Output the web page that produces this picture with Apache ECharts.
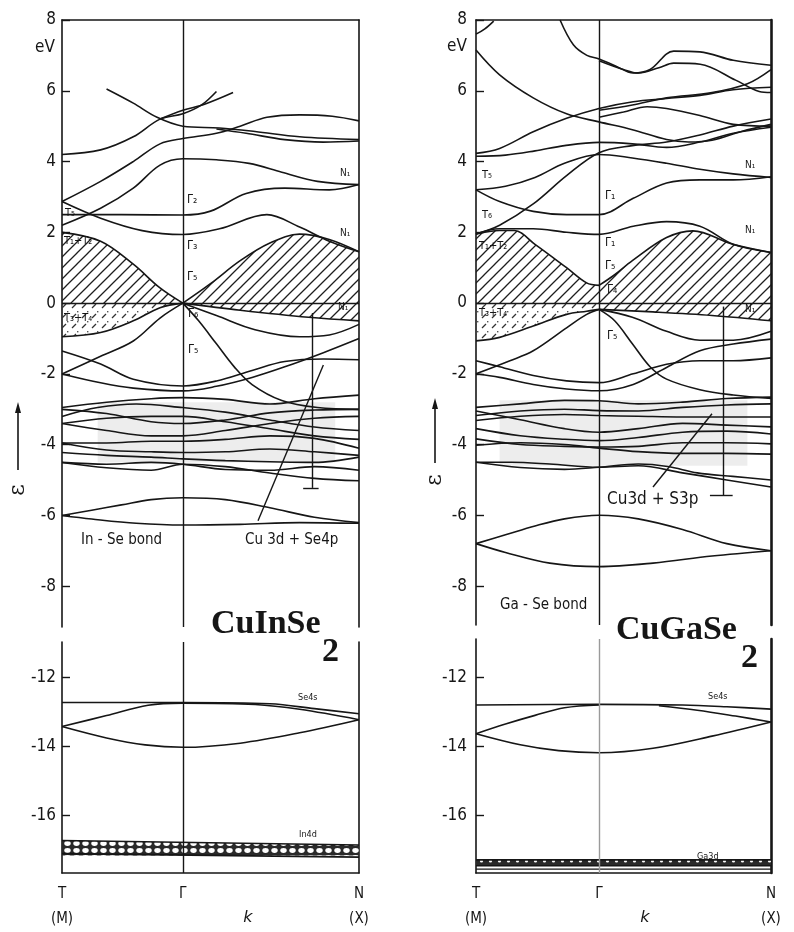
<!DOCTYPE html>
<html>
<head>
<meta charset="utf-8">
<script src="https://cdn.jsdelivr.net/npm/echarts@6/dist/echarts.min.js"></script>
<style>
  html, body { margin: 0; padding: 0; background: #fff; }
  #chart { width: 794px; height: 932px; }
</style>
</head>
<body>
<div id="chart"></div>
<script>
// k path: T (0) -> Gamma -> N (100), energies in eV
const gammaL = 40.7;
const gammaR = 41.7;
const eTicksUpper = [-8, -6, -4, -2, 0, 2, 4, 6, 8];
const eTicksLower = [-16, -14, -12];

// ---- CuInSe2 ----
const cuInCond = [
  [[15, 6.05], [24, 5.65], [32, 5.25], [40.7, 5.0], [53, 4.95], [65, 4.85], [80, 4.7], [100, 4.62]],
  [[0, 4.2], [13, 4.33], [24, 4.7], [33, 5.2], [40.7, 5.35], [47, 5.6], [52, 5.98]],
  [[33, 5.2], [40.7, 5.45], [48, 5.62], [57.6, 5.95]],
  [[0, 2.87], [13, 3.44], [24, 4.0], [33, 4.5], [40.7, 4.65], [52, 4.8], [60, 5.0], [69, 5.25], [80, 5.32], [91, 5.28], [100, 5.15]],
  [[52, 4.92], [62, 4.8], [75, 4.62], [88, 4.55], [100, 4.58]],
  [[0, 2.87], [13, 2.4], [27, 2.05], [40.7, 1.94], [53, 2.1], [69, 2.5], [80, 2.15], [90, 1.75], [100, 1.45]],
  [[0, 2.5], [20, 2.5], [40.7, 2.49], [50, 2.6], [62, 3.1], [75, 3.25], [90, 3.2], [100, 3.35]],
  [[0, 2.2], [13, 2.68], [24, 3.25], [33, 3.9], [40.7, 4.08], [52, 4.05], [63, 3.95], [74, 3.7], [86, 3.44], [100, 3.35]]
];
const cuInVal = [
  [[0, -2.0], [13, -1.5], [24, -1.07], [33, -0.42], [40.7, 0]],
  [[40.7, 0], [52, -0.35], [65, -0.75], [80, -0.95], [90, -0.9], [100, -0.6]],
  [[40.7, 0], [46, -0.5], [52, -1.15], [58, -1.8], [64, -2.3], [74, -2.75], [86, -2.95], [100, -3.0]],
  [[0, -1.35], [13, -1.72], [24, -2.15], [40.7, -2.34], [52, -2.2], [64, -1.9], [75, -1.65], [88, -1.58], [100, -1.6]],
  [[0, -2.0], [13, -2.25], [24, -2.4], [40.7, -2.48], [52, -2.35], [64, -2.1], [75, -1.8], [88, -1.4], [100, -1.0]]
];
const cuInD = [
  [[0, -2.95], [15, -2.8], [30, -2.7], [40.7, -2.67], [55, -2.72], [70, -2.85], [85, -2.7], [100, -2.6]],
  [[0, -3.0], [15, -3.12], [30, -3.35], [40.7, -3.4], [55, -3.3], [70, -3.1], [85, -3.02], [100, -3.0]],
  [[0, -3.2], [12, -2.95], [25, -2.85], [40.7, -2.95], [55, -3.08], [70, -3.3], [85, -3.5], [100, -3.6]],
  [[0, -3.4], [15, -3.6], [30, -3.75], [40.7, -3.75], [55, -3.6], [70, -3.4], [85, -3.25], [100, -3.2]],
  [[0, -3.4], [15, -3.25], [30, -3.2], [40.7, -3.2], [55, -3.35], [70, -3.55], [85, -3.75], [100, -3.85]],
  [[0, -3.95], [15, -3.95], [30, -3.9], [40.7, -3.9], [55, -3.85], [70, -3.75], [85, -3.82], [100, -4.1]],
  [[0, -3.95], [15, -4.15], [30, -4.2], [40.7, -4.22], [55, -4.2], [70, -4.12], [85, -4.2], [100, -4.3]],
  [[0, -4.22], [15, -4.3], [30, -4.35], [40.7, -4.4], [55, -4.45], [70, -4.48], [85, -4.5], [100, -4.35]],
  [[0, -4.5], [15, -4.65], [30, -4.72], [40.7, -4.55], [55, -4.62], [70, -4.8], [85, -4.95], [100, -5.02]],
  [[0, -4.5], [15, -4.55], [30, -4.5], [40.7, -4.55], [55, -4.7], [70, -4.72], [85, -4.62], [100, -4.72]]
];
const cuInSeBond = [
  [[0, -6.0], [10, -5.85], [20, -5.7], [30, -5.55], [40.7, -5.5], [55, -5.55], [70, -5.78], [85, -6.05], [100, -6.2]],
  [[0, -6.0], [10, -6.1], [25, -6.22], [40.7, -6.27], [60, -6.25], [80, -6.2], [100, -6.22]]
];
const cuInHatchA = [[0, 2.0], [13, 1.75], [24, 1.1], [33, 0.43], [40.7, 0]];
const cuInHatchB = [[40.7, 0], [50, 0.55], [60, 1.2], [70, 1.7], [80, 1.95], [90, 1.8], [100, 1.45]];
const cuInDotA = [[0, -0.95], [13, -0.83], [24, -0.5], [33, -0.13], [40.7, 0]];
const cuInHatchC = [[40.7, 0], [60, -0.2], [83, -0.4], [100, -0.5]];
const cuInShade = [[12, -2.8], [92, -4.5]];
const cuInSe4s = [
  [[0, -12.72], [40.7, -12.72], [70, -12.76], [85, -12.9], [100, -13.05]],
  [[0, -13.42], [15, -13.1], [29, -12.8], [40.7, -12.74], [65, -12.78], [80, -12.92], [100, -13.22]],
  [[0, -13.42], [15, -13.75], [28, -13.95], [40.7, -14.02], [60, -13.9], [80, -13.6], [100, -13.22]]
];
const cuInIn4dTop = [[0, -16.72], [100, -16.85]];
const cuInIn4dBot = [[0, -17.1], [100, -17.2]];
const cuInBracket = [[84.2, -0.28], [84.2, -5.22]];
const cuInBracketFoot = [[81.2, -5.22], [86.4, -5.22]];
const cuInLeader = [[66, -6.15], [88, -1.75]];

// ---- CuGaSe2 ----
const cuGaCond = [
  [[0, 7.6], [3, 7.75], [6, 7.97]],
  [[28.5, 8.0], [33, 7.3], [37.6, 7.0], [41.7, 6.9], [47.3, 6.7], [53.3, 6.5], [59, 6.6], [67, 7.12], [75.9, 7.1], [87.2, 6.86], [100, 6.72]],
  [[41.7, 6.85], [50, 6.6], [55, 6.5], [62, 6.65], [67, 6.78], [76, 6.75], [88, 6.3], [96, 5.98], [100, 5.95]],
  [[0, 7.15], [8, 6.45], [19.4, 5.8], [30.7, 5.35], [41.7, 5.12], [53, 4.9], [64.6, 4.62], [72, 4.55], [80, 4.6], [90, 4.85], [100, 5.05]],
  [[0, 4.23], [8, 4.37], [19.4, 4.84], [30.7, 5.22], [41.7, 5.5], [53.3, 5.69], [64.6, 5.78], [75.9, 5.87], [87.2, 6.03], [100, 6.1]],
  [[0, 4.15], [10, 4.18], [20, 4.3], [30, 4.45], [41.7, 4.54], [53, 4.5], [64.6, 4.4], [75.9, 4.55], [87.2, 4.8], [100, 4.97]],
  [[0, 3.2], [10, 3.3], [20, 3.55], [30, 3.95], [41.7, 4.2], [53, 4.1], [64.6, 3.95], [75.9, 3.78], [87.2, 3.65], [100, 3.55]],
  [[0, 1.95], [8, 2.2], [19.4, 2.8], [30.7, 3.6], [41.7, 4.25], [53, 4.45], [64.6, 4.55], [75.9, 4.75], [87.2, 5.0], [100, 5.2]],
  [[0, 3.2], [8, 2.87], [19.4, 2.59], [30.7, 2.5], [41.7, 2.5], [53.3, 2.96], [64.6, 3.39], [75.9, 3.48], [87.2, 3.48], [100, 3.57]],
  [[0, 1.95], [8, 2.1], [19.4, 2.1], [30.7, 2.0], [41.7, 1.94], [53.3, 2.17], [64.6, 2.3], [75.9, 2.17], [87.2, 1.66], [100, 1.43]],
  [[41.7, 5.45], [53, 5.6], [64.6, 5.8], [80, 5.95], [92, 6.2], [100, 6.6]],
  [[41.7, 5.25], [50, 5.4], [58, 5.55], [64.6, 5.5], [75.9, 5.3], [87.2, 5.05], [100, 5.0]]
];
const cuGaVal = [
  [[0, -2.0], [11.5, -1.63], [19.4, -1.35], [30.7, -0.7], [37.5, -0.32], [41.7, -0.18]],
  [[41.7, -0.18], [53, -0.4], [64.6, -0.8], [75.9, -1.05], [87.2, -1.05], [100, -0.8]],
  [[41.7, -0.18], [47, -0.5], [53, -1.15], [59, -1.8], [64.6, -2.15], [75.9, -2.45], [87.2, -2.6], [100, -2.7]],
  [[0, -1.63], [8, -1.8], [19.4, -2.05], [30.7, -2.2], [41.7, -2.25], [53.3, -2.0], [64.6, -1.73], [75.9, -1.63], [87.2, -1.63], [100, -1.55]],
  [[0, -2.0], [8, -2.1], [19.4, -2.3], [30.7, -2.43], [41.7, -2.48], [53.3, -2.3], [64.6, -1.82], [75.9, -1.35], [87.2, -1.16], [100, -1.02]]
];
const cuGaD = [
  [[0, -2.95], [15, -2.85], [30, -2.75], [41.7, -2.76], [55, -2.85], [70, -2.8], [85, -2.7], [100, -2.66]],
  [[0, -3.18], [15, -3.05], [30, -3.0], [41.7, -3.04], [55, -3.05], [70, -2.95], [85, -2.88], [100, -2.85]],
  [[0, -3.32], [15, -3.2], [30, -3.15], [41.7, -3.18], [55, -3.2], [70, -3.22], [85, -3.22], [100, -3.22]],
  [[0, -3.05], [15, -3.3], [30, -3.55], [41.7, -3.65], [55, -3.55], [70, -3.4], [85, -3.45], [100, -3.5]],
  [[0, -3.55], [15, -3.75], [30, -3.85], [41.7, -3.89], [55, -3.8], [70, -3.65], [85, -3.62], [100, -3.7]],
  [[0, -3.84], [15, -4.0], [30, -4.05], [41.7, -4.07], [55, -4.05], [70, -3.95], [85, -3.95], [100, -3.98]],
  [[0, -4.02], [15, -3.95], [30, -4.0], [41.7, -4.1], [55, -4.2], [70, -4.25], [85, -4.25], [100, -4.27]],
  [[0, -4.5], [12, -4.5], [25, -4.55], [41.7, -4.64], [55, -4.6], [70, -4.8], [85, -5.0], [100, -5.2]],
  [[0, -4.5], [15, -4.65], [30, -4.7], [41.7, -4.64], [55, -4.55], [65, -4.62], [75, -4.8], [87, -4.9], [100, -5.0]]
];
const cuGaSeBond = [
  [[0, -6.8], [10, -6.55], [20, -6.3], [30, -6.1], [41.7, -6.0], [55, -6.1], [70, -6.4], [85, -6.8], [100, -7.0]],
  [[0, -6.8], [10, -7.05], [25, -7.35], [41.7, -7.45], [60, -7.35], [80, -7.15], [100, -7.0]]
];
const cuGaHatchA = [[0, 1.95], [8, 2.05], [13, 2.05], [20, 1.66], [30.7, 1.0], [37.5, 0.57], [41.7, 0.5]];
const cuGaHatchB = [[41.7, 0.5], [47, 0.8], [53, 1.2], [64.6, 1.85], [73.5, 2.04], [87, 1.66], [100, 1.43]];
const cuGaDotA = [[0, -1.07], [8, -0.97], [19.4, -0.65], [30.7, -0.32], [37.5, -0.23], [41.7, -0.18]];
const cuGaHatchC = [[41.7, -0.18], [60, -0.25], [80, -0.35], [100, -0.5]];
const cuGaShade = [[8, -2.75], [92, -4.6]];
const cuGaSe4s = [
  [[0, -12.8], [41.7, -12.78], [70, -12.8], [85, -12.85], [100, -12.92]],
  [[0, -13.63], [10, -13.35], [20, -13.1], [30, -12.88], [41.7, -12.8]],
  [[62, -12.82], [75, -12.95], [88, -13.12], [100, -13.29]],
  [[0, -13.63], [15, -13.95], [28, -14.12], [41.7, -14.18], [60, -14.05], [80, -13.7], [100, -13.29]]
];
const cuGaGa3dTop = [[0, -17.28], [100, -17.28]];
const cuGaGa3dBot = [[0, -17.45], [100, -17.45]];
const cuGaGa3dLow = [[0, -17.55], [100, -17.55]];
const cuGaBracket = [[83.7, -0.1], [83.7, -5.44]];
const cuGaBracketFoot = [[79.3, -5.44], [87, -5.44]];
const cuGaLeader = [[60, -5.2], [80, -3.13]];

const ink = '#161616';
const tickFont = 'DejaVu Sans Condensed';

// fill textures for the shaded regions
function pattern(kind) {
  const c = document.createElement('canvas');
  const g = c.getContext('2d');
  if (kind === 'hatch') {
    c.width = c.height = 11;
    g.strokeStyle = '#1e1e1e';
    g.lineWidth = 1.3;
    g.beginPath();
    g.moveTo(-1, 12); g.lineTo(12, -1);
    g.moveTo(-1, 1); g.lineTo(1, -1);
    g.moveTo(10, 12); g.lineTo(12, 10);
    g.stroke();
  } else if (kind === 'dash') {
    c.width = c.height = 10;
    g.strokeStyle = '#333';
    g.lineWidth = 1.2;
    g.beginPath();
    g.moveTo(2, 8); g.lineTo(6, 4);
    g.stroke();
    g.fillStyle = '#555';
    g.fillRect(7, 1, 1.4, 1.4);
  } else if (kind === 'chain') {
    c.width = 9; c.height = 7;
    g.fillStyle = '#2a2a2a';
    g.fillRect(0, 0, 9, 7);
    g.fillStyle = '#fff';
    g.beginPath(); g.ellipse(4.5, 3.5, 3.2, 2.4, 0, 0, Math.PI * 2); g.fill();
  } else {
    c.width = 9; c.height = 6;
    g.fillStyle = '#2a2a2a';
    g.fillRect(0, 0, 9, 6);
    g.fillStyle = '#fff';
    g.beginPath(); g.arc(4.5, 3, 1.6, 0, Math.PI * 2); g.fill();
  }
  return { image: c, repeat: 'repeat' };
}

const grids = [
  { left: 62, top: 20, width: 297, height: 607 },
  { left: 62, top: 642, width: 297, height: 234 },
  { left: 476, top: 20, width: 295, height: 605 },
  { left: 476, top: 639, width: 295, height: 237 }
];
const yRanges = [[-9.15, 8], [-17.66, -10.97], [-9.1, 8], [-17.66, -10.89]];

const xAxes = grids.map((g, i) => {
  const lower = i % 2 === 1;
  const gam = i < 2 ? gammaL : gammaR;
  return {
    type: 'value', gridIndex: i, min: 0, max: 100,
    position: lower ? 'bottom' : 'top',
    axisLine: { show: true, onZero: false, lineStyle: { color: ink, width: 1.6 } },
    axisTick: { show: false },
    splitLine: { show: false },
    axisLabel: lower ? {
      show: true, customValues: [0, gam, 100], margin: 9,
      color: ink, fontFamily: tickFont, fontSize: 15, lineHeight: 25,
      formatter: (v) => v < 1 ? 'T\n(M)' : v > 99 ? 'N\n(X)' : 'Γ'
    } : { show: false }
  };
});

const yAxes = [];
grids.forEach((g, i) => {
  const ticks = i % 2 === 0 ? eTicksUpper : eTicksLower;
  yAxes.push({
    type: 'value', gridIndex: i, min: yRanges[i][0], max: yRanges[i][1], position: 'left',
    axisLine: { show: true, onZero: false, lineStyle: { color: ink, width: 1.6 } },
    axisTick: { show: true, inside: true, length: 8, customValues: ticks, lineStyle: { color: ink, width: 1.4 } },
    axisLabel: { show: true, customValues: ticks, margin: i < 2 ? 6 : 9, color: ink, fontFamily: tickFont, fontSize: 17 },
    splitLine: { show: false }
  });
  yAxes.push({
    type: 'value', gridIndex: i, min: yRanges[i][0], max: yRanges[i][1], position: 'right',
    axisLine: { show: true, onZero: false, lineStyle: { color: ink, width: i < 2 ? 1.6 : 2.6 } },
    axisTick: { show: false }, axisLabel: { show: false }, splitLine: { show: false }
  });
});

const series = [];
function band(data, gi, extra) {
  series.push(Object.assign({
    type: 'line', xAxisIndex: gi, yAxisIndex: gi * 2, data: data,
    smooth: 0.35, symbol: 'none', silent: true,
    lineStyle: { color: ink, width: 1.6 }
  }, extra || {}));
}
function area(data, gi, fill, origin) {
  band(data, gi, { areaStyle: { color: fill, origin: origin, opacity: 1 }, z: 1 });
}
function segs(gi, lines, shade, gamColor) {
  const gam = gi < 2 ? gammaL : gammaR;
  const data = [{ xAxis: gam, lineStyle: { color: gamColor || ink } }];
  if (gi % 2 === 0) data.push({ yAxis: 0 });
  lines.forEach((l) => data.push([{ coord: l[0] }, { coord: l[1] }]));
  const s = {
    type: 'line', xAxisIndex: gi, yAxisIndex: gi * 2, data: [], silent: true,
    markLine: {
      silent: true, symbol: 'none', animation: false, label: { show: false },
      lineStyle: { color: ink, width: 1.4, type: 'solid' }, data: data
    }
  };
  if (shade) {
    s.markArea = {
      silent: true, itemStyle: { color: 'rgba(0,0,0,0.07)' },
      data: [[{ coord: shade[0] }, { coord: shade[1] }]]
    };
  }
  series.push(s);
}

const hatch = pattern('hatch');
const dash = pattern('dash');

// CuInSe2 upper
area(cuInHatchA, 0, hatch, 0);
area(cuInHatchB, 0, hatch, 0);
area(cuInDotA, 0, dash, 0);
area(cuInHatchC, 0, hatch, 0);
cuInCond.concat(cuInVal, cuInD, cuInSeBond).forEach((b) => band(b, 0));
segs(0, [cuInBracket, cuInBracketFoot, cuInLeader], cuInShade);
// CuInSe2 lower
area(cuInIn4dTop, 1, pattern('chain'), -17.15);
band(cuInIn4dBot, 1);
cuInSe4s.forEach((b) => band(b, 1));
segs(1, []);
// CuGaSe2 upper
area(cuGaHatchA, 2, hatch, 0);
area(cuGaHatchB, 2, hatch, 0);
area(cuGaDotA, 2, dash, 0);
area(cuGaHatchC, 2, hatch, 0);
cuGaCond.concat(cuGaVal, cuGaD, cuGaSeBond).forEach((b) => band(b, 2));
segs(2, [cuGaBracket, cuGaBracketFoot, cuGaLeader], cuGaShade);
// CuGaSe2 lower
area(cuGaGa3dTop, 3, pattern('dots'), -17.45);
band(cuGaGa3dBot, 3);
band(cuGaGa3dLow, 3, { lineStyle: { color: ink, width: 1.2 } });
cuGaSe4s.forEach((b) => band(b, 3));
segs(3, [], null, '#9a9a9a');

// text annotations
function txt(x, y, s, size, opt) {
  return Object.assign({
    type: 'text', x: x, y: y, silent: true, z: 100,
    style: Object.assign({
      text: s, fill: ink, font: size + 'px "DejaVu Sans Condensed", "DejaVu Sans"',
      textAlign: 'left', textVerticalAlign: 'middle'
    }, (opt && opt.style) || {})
  }, (opt && opt.el) || {});
}
const serif = 'bold 34px "Liberation Serif", "DejaVu Serif", serif';
const graphics = [
  txt(35, 48, 'eV', 17),
  txt(447, 47, 'eV', 17),
  // energy arrows
  { type: 'line', silent: true, shape: { x1: 18, y1: 470, x2: 18, y2: 410 }, style: { stroke: ink, lineWidth: 1.6 } },
  { type: 'polygon', silent: true, shape: { points: [[18, 402], [15, 413], [21, 413]] }, style: { fill: ink } },
  txt(18, 490, 'ε', 22, { el: { rotation: Math.PI / 2 }, style: { textAlign: 'center', font: '22px "DejaVu Serif"' } }),
  { type: 'line', silent: true, shape: { x1: 435, y1: 463, x2: 435, y2: 406 }, style: { stroke: ink, lineWidth: 1.6 } },
  { type: 'polygon', silent: true, shape: { points: [[435, 398], [432, 409], [438, 409]] }, style: { fill: ink } },
  txt(435, 480, 'ε', 22, { el: { rotation: Math.PI / 2 }, style: { textAlign: 'center', font: '22px "DejaVu Serif"' } }),
  // k labels
  txt(248, 918, 'k', 16, { style: { textAlign: 'center', font: 'italic 16px "DejaVu Sans"' } }),
  txt(645, 918, 'k', 16, { style: { textAlign: 'center', font: 'italic 16px "DejaVu Sans"' } }),
  // titles
  txt(211, 624, 'CuInSe', 34, { style: { font: serif } }),
  txt(322, 652, '2', 34, { style: { font: serif } }),
  txt(616, 630, 'CuGaSe', 34, { style: { font: serif } }),
  txt(741, 658, '2', 34, { style: { font: serif } }),
  // bonds
  txt(81, 540, 'In - Se bond', 15),
  txt(245, 540, 'Cu 3d + Se4p', 15),
  txt(500, 605, 'Ga - Se bond', 15),
  txt(607, 500, 'Cu3d + S3p', 17),
  txt(298, 698, 'Se4s', 9),
  txt(299, 835, 'In4d', 9),
  txt(708, 697, 'Se4s', 9),
  txt(697, 857, 'Ga3d', 9),
  // symmetry labels, CuInSe2
  txt(187, 200, 'Γ₂', 12), txt(187, 246, 'Γ₃', 12), txt(187, 277, 'Γ₅', 12),
  txt(188, 314, 'Γ₆', 12), txt(188, 350, 'Γ₅', 12),
  txt(340, 173, 'N₁', 10), txt(340, 233, 'N₁', 10), txt(338, 307, 'N₁', 10),
  txt(65, 213, 'T₅', 11), txt(64, 241, 'T₁+T₂', 11), txt(64, 318, 'T₃+T₄', 11),
  // symmetry labels, CuGaSe2
  txt(605, 196, 'Γ₁', 12), txt(605, 243, 'Γ₁', 12), txt(605, 266, 'Γ₅', 12),
  txt(607, 290, 'Γ₄', 12), txt(607, 336, 'Γ₅', 12),
  txt(745, 165, 'N₁', 10), txt(745, 230, 'N₁', 10), txt(745, 309, 'N₁', 10),
  txt(482, 175, 'T₅', 11), txt(482, 215, 'T₆', 11), txt(479, 246, 'T₁+T₂', 11), txt(479, 313, 'T₃+T₄', 11)
];

const chart = echarts.init(document.getElementById('chart'), null, { renderer: 'canvas' });
chart.setOption({
  animation: false,
  backgroundColor: '#fff',
  grid: grids,
  xAxis: xAxes,
  yAxis: yAxes,
  series: series,
  graphic: graphics
});
</script>
</body>
</html>
